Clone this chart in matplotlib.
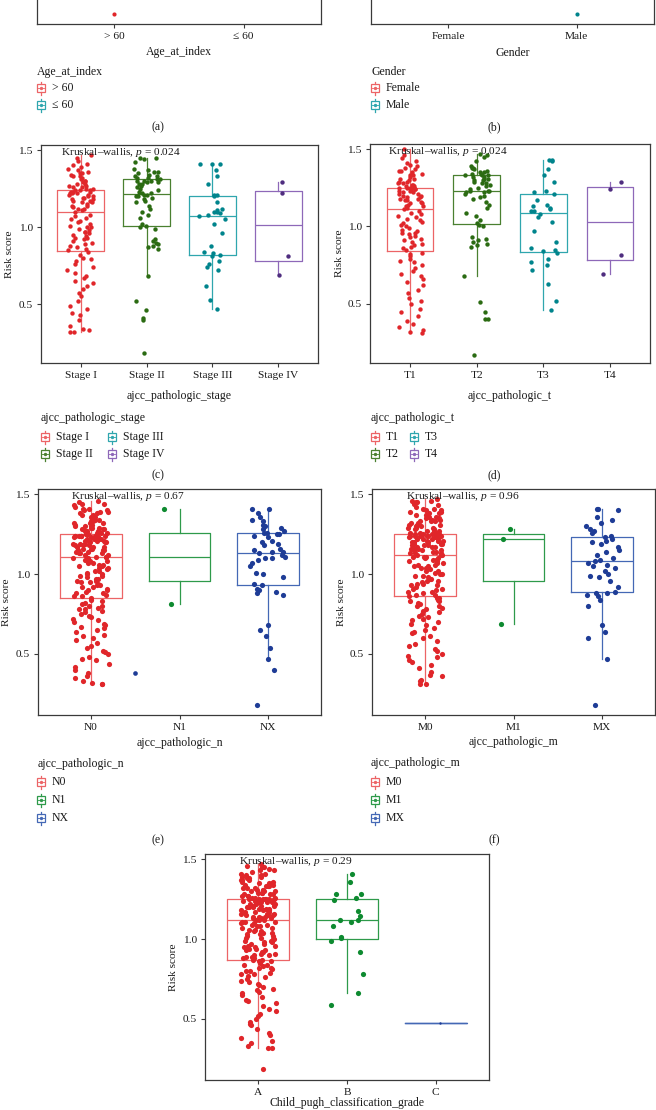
import numpy as np
import matplotlib
matplotlib.use("Agg")
import matplotlib.pyplot as plt
from matplotlib.patches import Rectangle

# ---------------- data ----------------
age_cats = ["> 60", "\u2264 60"]
age_gt60 = [0.18]
age_le60 = []

gender_cats = ["Female", "Male"]
gender_female = []
gender_male = [0.18]

stage_cats = ["Stage I", "Stage II", "Stage III", "Stage IV"]
stage_1 = [0.32, 0.32, 0.33, 0.34, 0.36, 0.40, 0.43, 0.44, 0.47, 0.49, 0.52, 0.55, 0.57, 0.60, 0.62, 0.64,
           0.65, 0.67, 0.68, 0.70, 0.72, 0.74, 0.76, 0.78, 0.79, 0.80, 0.82,
           0.84, 0.85, 0.86, 0.87, 0.88, 0.89, 0.90, 0.91, 0.92, 0.93, 0.93, 0.94, 0.95, 0.96, 0.97, 0.97,
           0.98, 0.99, 1.00, 1.00, 1.01, 1.02, 1.03, 1.04, 1.05, 1.06, 1.07, 1.08,
           1.10, 1.11, 1.12, 1.12, 1.13, 1.14, 1.14, 1.15, 1.16, 1.16, 1.17, 1.17, 1.18, 1.18, 1.19, 1.19,
           1.20, 1.20, 1.21, 1.21, 1.22, 1.22, 1.22, 1.23, 1.23, 1.23, 1.24, 1.24,
           1.24, 1.25, 1.25, 1.26, 1.26, 1.27, 1.27, 1.28, 1.28, 1.29, 1.30, 1.30, 1.31, 1.32, 1.33, 1.33,
           1.34, 1.35, 1.35, 1.36, 1.37, 1.38, 1.39, 1.40, 1.41, 1.43, 1.45, 1.47]
stage_2 = [0.18, 0.40, 0.41, 0.46, 0.52, 0.68, 0.86, 0.87, 0.88, 0.89, 0.90, 0.91, 0.92, 0.99, 1.00,
           1.01, 1.02, 1.06, 1.08, 1.10, 1.12, 1.14, 1.16, 1.17, 1.18, 1.19, 1.20, 1.20, 1.21, 1.21,
           1.22, 1.22, 1.23, 1.24, 1.25, 1.26, 1.27, 1.28, 1.28, 1.29, 1.29, 1.30, 1.30, 1.30, 1.31,
           1.31, 1.32, 1.32, 1.33, 1.33, 1.34, 1.35, 1.36, 1.36, 1.37, 1.38, 1.42, 1.44, 1.45, 1.45]
stage_3 = [0.47, 0.53, 0.62, 0.72, 0.74, 0.76, 0.78, 0.81, 0.82, 0.83, 0.84, 0.88, 0.96, 1.02, 1.05, 1.07,
           1.08, 1.09, 1.10, 1.10, 1.11, 1.12, 1.16, 1.20, 1.21, 1.21, 1.28, 1.33, 1.37, 1.41, 1.41, 1.41]
stage_4 = [0.69, 0.81, 1.22, 1.29]

t_cats = ["T1", "T2", "T3", "T4"]
t_1 = [0.31, 0.32, 0.33, 0.35, 0.37, 0.39, 0.42, 0.45, 0.47, 0.50, 0.52, 0.54, 0.57, 0.59, 0.62, 0.64,
       0.66, 0.68, 0.69, 0.71, 0.73, 0.75, 0.77, 0.78, 0.79, 0.81, 0.82,
       0.83, 0.85, 0.86, 0.87, 0.88, 0.89, 0.90, 0.91, 0.92, 0.93, 0.94, 0.95, 0.96, 0.96, 0.97, 0.98,
       0.99, 1.00, 1.01, 1.02, 1.03, 1.04, 1.05, 1.06, 1.07, 1.08, 1.09, 1.10,
       1.11, 1.12, 1.13, 1.13, 1.14, 1.15, 1.15, 1.16, 1.17, 1.17, 1.18, 1.18, 1.19, 1.19, 1.20, 1.20,
       1.21, 1.21, 1.22, 1.22, 1.23, 1.23, 1.24, 1.24, 1.24, 1.25, 1.25, 1.25,
       1.25, 1.26, 1.26, 1.27, 1.27, 1.28, 1.28, 1.29, 1.29, 1.30, 1.31, 1.31, 1.32, 1.33, 1.33, 1.34,
       1.35, 1.36, 1.36, 1.37, 1.38, 1.39, 1.40, 1.41, 1.42, 1.44, 1.46, 1.50]
t_2 = [0.17, 0.40, 0.40, 0.45, 0.51, 0.68, 0.87, 0.88, 0.89, 0.90, 0.91, 0.92, 0.93, 1.00, 1.01,
       1.02, 1.04, 1.07, 1.09, 1.12, 1.14, 1.16, 1.18, 1.19, 1.20, 1.21, 1.22, 1.22, 1.23, 1.23,
       1.23, 1.24, 1.25, 1.26, 1.27, 1.28, 1.28, 1.29, 1.30, 1.30, 1.31, 1.31, 1.32, 1.32, 1.33,
       1.33, 1.33, 1.34, 1.34, 1.35, 1.35, 1.36, 1.37, 1.38, 1.38, 1.39, 1.42, 1.45, 1.46, 1.47]
t_3 = [0.46, 0.52, 0.63, 0.72, 0.75, 0.77, 0.79, 0.83, 0.84, 0.85, 0.86, 0.90, 0.97, 1.03, 1.06, 1.08,
       1.10, 1.10, 1.11, 1.12, 1.13, 1.14, 1.17, 1.21, 1.22, 1.23, 1.29, 1.33, 1.37, 1.42, 1.43, 1.43]
t_4 = [0.69, 0.815, 1.24, 1.29]

n_cats = ["N0", "N1", "NX"]
n_0 = [0.31, 0.31, 0.32, 0.33, 0.35, 0.36, 0.38, 0.40, 0.42, 0.44, 0.46, 0.47, 0.48, 0.50, 0.51, 0.52,
       0.54, 0.55, 0.57, 0.59, 0.60, 0.61, 0.62, 0.64, 0.65, 0.66, 0.67, 0.68, 0.69, 0.70, 0.71, 0.72,
       0.73, 0.74, 0.75, 0.76, 0.77, 0.78, 0.78, 0.79, 0.80, 0.80, 0.81, 0.82, 0.83, 0.84,
       0.85, 0.86, 0.86, 0.87, 0.88, 0.88, 0.89, 0.90, 0.90, 0.91, 0.92, 0.92, 0.93, 0.93, 0.94, 0.95,
       0.95, 0.96, 0.96, 0.97, 0.97, 0.98, 0.99, 0.99, 1.00, 1.00, 1.01, 1.02, 1.02, 1.03, 1.04, 1.04,
       1.05, 1.05, 1.06, 1.06, 1.07, 1.07, 1.08, 1.08, 1.09, 1.09, 1.10, 1.10, 1.11, 1.11,
       1.11, 1.12, 1.12, 1.13, 1.13, 1.13, 1.14, 1.14, 1.15, 1.15, 1.15, 1.16, 1.16, 1.16, 1.17, 1.17,
       1.17, 1.18, 1.18, 1.18, 1.19, 1.19, 1.19, 1.20, 1.20, 1.20, 1.21, 1.21, 1.21, 1.21, 1.22, 1.22,
       1.22, 1.22, 1.23, 1.23, 1.23, 1.23, 1.24, 1.24, 1.24, 1.24, 1.24, 1.24, 1.24, 1.24,
       1.25, 1.25, 1.25, 1.26, 1.26, 1.26, 1.27, 1.27, 1.27, 1.28, 1.28, 1.28, 1.29, 1.29, 1.29, 1.30,
       1.30, 1.30, 1.31, 1.31, 1.32, 1.32, 1.32, 1.33, 1.33, 1.34, 1.34, 1.35, 1.35, 1.36, 1.36, 1.37,
       1.37, 1.38, 1.38, 1.39, 1.39, 1.40, 1.40, 1.41, 1.41, 1.42, 1.43, 1.44, 1.44, 1.45, 1.46]
n_1 = [0.81, 1.41]
n_x = [0.18, 0.40, 0.47, 0.54, 0.61, 0.65, 0.68, 0.87, 0.88, 0.89, 0.90, 0.91, 0.93,
       0.94, 0.98, 1.00, 1.01, 1.05, 1.07, 1.09, 1.10, 1.10, 1.11, 1.12, 1.13,
       1.14, 1.14, 1.15, 1.16, 1.18, 1.19, 1.20, 1.21, 1.23, 1.24, 1.25, 1.25,
       1.26, 1.26, 1.27, 1.28, 1.29, 1.30, 1.31, 1.33, 1.34, 1.36, 1.38, 1.41, 1.41]
n_x_stray = [0.38]   # single NX point drawn between N0 and N1 in the original

m_cats = ["M0", "M1", "MX"]
m_0 = [0.31, 0.31, 0.33, 0.34, 0.36, 0.37, 0.39, 0.41, 0.43, 0.45, 0.46, 0.48, 0.49, 0.50, 0.52, 0.53,
       0.55, 0.56, 0.58, 0.60, 0.61, 0.63, 0.64, 0.65, 0.66, 0.68, 0.69, 0.70, 0.71, 0.72, 0.73, 0.74,
       0.75, 0.76, 0.77, 0.78, 0.79, 0.80, 0.80, 0.81, 0.82, 0.83, 0.83, 0.84, 0.85, 0.85,
       0.86, 0.87, 0.87, 0.88, 0.89, 0.89, 0.90, 0.91, 0.91, 0.92, 0.93, 0.93, 0.94, 0.94, 0.95, 0.96,
       0.96, 0.97, 0.97, 0.98, 0.99, 0.99, 1.00, 1.00, 1.01, 1.02, 1.02, 1.03, 1.04, 1.04, 1.05, 1.05,
       1.06, 1.06, 1.07, 1.07, 1.08, 1.08, 1.09, 1.09, 1.10, 1.10, 1.11, 1.11, 1.11, 1.12,
       1.12, 1.12, 1.13, 1.13, 1.13, 1.14, 1.14, 1.15, 1.15, 1.15, 1.16, 1.16, 1.16, 1.17, 1.17, 1.17,
       1.18, 1.18, 1.18, 1.19, 1.19, 1.19, 1.20, 1.20, 1.20, 1.21, 1.21, 1.21, 1.22, 1.22, 1.22, 1.22,
       1.23, 1.23, 1.23, 1.23, 1.24, 1.24, 1.24, 1.24, 1.24, 1.24, 1.25, 1.25, 1.25, 1.25,
       1.25, 1.25, 1.26, 1.26, 1.26, 1.27, 1.27, 1.27, 1.28, 1.28, 1.29, 1.29, 1.29, 1.30, 1.30, 1.31,
       1.31, 1.31, 1.32, 1.32, 1.33, 1.33, 1.33, 1.34, 1.34, 1.35, 1.35, 1.36, 1.36, 1.37, 1.37, 1.38,
       1.38, 1.39, 1.39, 1.40, 1.40, 1.41, 1.41, 1.42, 1.43, 1.44, 1.45, 1.45, 1.46, 1.46, 1.47]
m_1 = [0.69, 1.22, 1.28]
m_x = [0.18, 0.47, 0.60, 0.64, 0.68, 0.80, 0.84, 0.86, 0.87, 0.88, 0.88, 0.89,
       0.92, 0.96, 0.98, 0.99, 1.00, 1.02, 1.04, 1.05, 1.06, 1.07, 1.08,
       1.09, 1.10, 1.12, 1.14, 1.15, 1.17, 1.19, 1.20, 1.21, 1.22, 1.23,
       1.24, 1.26, 1.27, 1.28, 1.30, 1.32, 1.34, 1.36, 1.40, 1.41, 1.41]

cp_cats = ["A", "B", "C"]
cp_a = [0.19, 0.32, 0.32, 0.33, 0.35, 0.36, 0.38, 0.40, 0.41, 0.44, 0.46, 0.47, 0.48, 0.50, 0.52, 0.53,
        0.55, 0.56, 0.58, 0.60, 0.61, 0.62, 0.64, 0.65, 0.66, 0.67, 0.68, 0.69, 0.70, 0.71, 0.72, 0.73,
        0.74, 0.75, 0.76, 0.77, 0.78, 0.78, 0.79, 0.80, 0.80, 0.81, 0.82, 0.82, 0.83, 0.84, 0.84, 0.85,
        0.86, 0.86, 0.87,
        0.87, 0.88, 0.88, 0.89, 0.89, 0.90, 0.90, 0.91, 0.91, 0.92, 0.92, 0.93, 0.93, 0.94, 0.94, 0.95,
        0.95, 0.96, 0.96, 0.97, 0.97, 0.98, 0.98, 0.99, 0.99, 1.00, 1.00, 1.01, 1.01, 1.02, 1.02, 1.03,
        1.03, 1.04, 1.04, 1.05, 1.05, 1.06, 1.06, 1.07, 1.07, 1.08, 1.08, 1.09, 1.09, 1.10, 1.10, 1.11,
        1.11, 1.11, 1.12, 1.12,
        1.12, 1.13, 1.13, 1.13, 1.14, 1.14, 1.14, 1.15, 1.15, 1.15, 1.16, 1.16, 1.16, 1.17, 1.17, 1.17,
        1.18, 1.18, 1.18, 1.19, 1.19, 1.19, 1.20, 1.20, 1.20, 1.20, 1.21, 1.21, 1.21, 1.21, 1.22, 1.22,
        1.22, 1.22, 1.23, 1.23, 1.23, 1.23, 1.23, 1.24, 1.24, 1.24, 1.24, 1.24, 1.24, 1.25, 1.25, 1.25,
        1.25, 1.25,
        1.25, 1.25, 1.26, 1.26, 1.26, 1.27, 1.27, 1.27, 1.28, 1.28, 1.28, 1.29, 1.29, 1.29, 1.30, 1.30,
        1.30, 1.31, 1.31, 1.31, 1.32, 1.32, 1.32, 1.33, 1.33, 1.33, 1.34, 1.34, 1.35, 1.35, 1.35, 1.36,
        1.36, 1.37, 1.37, 1.37, 1.38, 1.38, 1.39, 1.39, 1.40, 1.40, 1.41, 1.41, 1.42, 1.43, 1.43, 1.44,
        1.45, 1.45, 1.46, 1.47]
cp_b = [0.586, 0.66, 0.78, 0.92, 0.99, 1.01, 1.015, 1.08, 1.11, 1.119, 1.12, 1.146, 1.177, 1.245,
        1.256, 1.28, 1.285, 1.356, 1.41]
cp_c = [0.477]

stat_c = "Kruskal\u2013wallis, $p$ = 0.024"
stat_d = "Kruskal\u2013wallis, $p$ = 0.024"
stat_e = "Kruskal\u2013wallis, $p$ = 0.67"
stat_f = "Kruskal\u2013wallis, $p$ = 0.96"
stat_g = "Kruskal\u2013wallis, $p$ = 0.29"

# ---------------- style ----------------
RED_P, RED_B = "#E0262A", "#EC6466"
DGREEN_P, DGREEN_B = "#2B6B12", "#4A8030"
TEAL_P, TEAL_B = "#00848C", "#2FA6AE"
PURP_P, PURP_B = "#4F2D7F", "#8E68B8"
GREEN_P, GREEN_B = "#0E8A30", "#2E9A4A"
BLUE_P, BLUE_B = "#1E3C96", "#4468B5"
TXT = "#1a1a1a"
SPINE = "#3a3a3a"
FS = 8.2

W, H = 656, 1110
plt.rcParams['font.family'] = ['Liberation Serif', 'DejaVu Serif']
plt.rcParams['mathtext.fontset'] = 'custom'
plt.rcParams['mathtext.rm'] = 'Liberation Serif'
plt.rcParams['mathtext.it'] = 'Liberation Serif:italic'

fig = plt.figure(figsize=(W / 100, H / 100), dpi=100)
fig.patch.set_facecolor("white")

ov = fig.add_axes([0, 0, 1, 1], zorder=10)
ov.set_xlim(0, W)
ov.set_ylim(H, 0)
ov.axis("off")


def ax_px(l, t, r, b):
    return fig.add_axes([l / W, 1 - b / H, (r - l) / W, (b - t) / H])


def panel(box, groups, cats, pcol, bcol, size, stat=None, statx=0.07, seed=0,
          xlabel="", xlabel_y=0, stray=None, boxes=True):
    l, t, r, b = box
    ax = ax_px(l, t, r, b)
    rng = np.random.default_rng(seed)
    n = len(cats)
    for i, (g, pc, bc) in enumerate(zip(groups, pcol, bcol)):
        if len(g) == 0:
            continue
        if boxes:
            ax.boxplot([g], positions=[i], widths=0.7, showfliers=False, showcaps=False,
                       whis=1.5, manage_ticks=False,
                       boxprops=dict(color=bc, lw=0.9),
                       whiskerprops=dict(color=bc, lw=0.9),
                       medianprops=dict(color=bc, lw=0.9), zorder=2)
            xs = i + rng.uniform(-0.2, 0.2, len(g))
        else:
            xs = np.full(len(g), float(i))
        ax.scatter(xs, g, s=size if len(g) > 1 or not boxes else 3, color=pc, lw=0, zorder=3)
    if stray is not None:
        vals, pos, col = stray
        ax.scatter([pos] * len(vals), vals, s=size * 0.8, color=col, lw=0, zorder=3)
    ax.set_xlim(-0.6, n - 0.4)
    ax.set_ylim(0.118, 1.533)
    ax.set_xticks(range(n))
    ax.set_xticklabels(cats)
    if boxes:
        ax.set_yticks([0.5, 1.0, 1.5])
        ax.set_yticklabels(["0.5", "1.0", "1.5"])
    else:
        ax.set_yticks([])
    ax.tick_params(length=3, width=0.8, color=SPINE, labelsize=FS, labelcolor=TXT, pad=3)
    for s in ax.spines.values():
        s.set_color(SPINE)
        s.set_linewidth(0.9)
    if stat:
        ax.text(statx, 1.485, stat, transform=ax.get_yaxis_transform(), fontsize=FS,
                color=TXT, ha="left", va="center")
    if t > 0:
        ov.text(l - 31, (t + b) / 2, "Risk score", rotation=90, ha="center", va="center",
                fontsize=FS, color=TXT)
    ov.text((l + r) / 2, xlabel_y, xlabel, ha="center", va="center", fontsize=FS + 0.3, color=TXT)
    return ax


def icon(x, y, color):
    w, h = 8, 8
    ov.add_patch(Rectangle((x, y - h / 2), w, h, fill=False, ec=color, lw=0.9))
    ov.plot([x + w / 2] * 2, [y - h / 2 - 2.5, y - h / 2], color=color, lw=0.9)
    ov.plot([x + w / 2] * 2, [y + h / 2, y + h / 2 + 2.5], color=color, lw=0.9)
    ov.plot([x, x + w], [y, y], color=color, lw=0.6)
    ov.scatter([x + w / 2], [y], s=6, color=color, lw=0, zorder=5)


def legend(title, tx, ty, items):
    ov.text(tx, ty, title, ha="left", va="center", fontsize=FS + 0.3, color=TXT)
    for (ix, iy, lab, col) in items:
        icon(ix, iy, col)
        ov.text(ix + 15, iy, lab, ha="left", va="center", fontsize=FS + 0.3, color=TXT)


def plabel(x, y, s):
    ov.text(x, y, s, ha="center", va="center", fontsize=FS + 0.3, color=TXT)


# (a)
panel((37, -194, 321, 24), [age_gt60, age_le60], age_cats, [RED_P, TEAL_P], [RED_B, TEAL_B],
      9, seed=1, xlabel="Age_at_index", xlabel_y=52, boxes=False)
legend("Age_at_index", 37, 72, [(37, 88, age_cats[0], RED_B), (37, 105, age_cats[1], TEAL_B)])
plabel(158, 127, "(a)")

# (b)
panel((371, -194, 654, 24), [gender_female, gender_male], gender_cats, [RED_P, TEAL_P],
      [RED_B, TEAL_B], 9, seed=2, xlabel="Gender", xlabel_y=53, boxes=False)
legend("Gender", 371, 72, [(371, 88, gender_cats[0], RED_B), (371, 105, gender_cats[1], TEAL_B)])
plabel(494, 127, "(b)")

four_p = [RED_P, DGREEN_P, TEAL_P, PURP_P]
four_b = [RED_B, DGREEN_B, TEAL_B, PURP_B]

# (c)
panel((41, 145, 318, 363), [stage_1, stage_2, stage_3, stage_4], stage_cats, four_p, four_b,
      10, stat=stat_c, statx=0.072, seed=3, xlabel="ajcc_pathologic_stage", xlabel_y=396)
legend("ajcc_pathologic_stage", 41, 418,
       [(41, 437, stage_cats[0], RED_B), (41, 454, stage_cats[1], DGREEN_B),
        (108, 437, stage_cats[2], TEAL_B), (108, 454, stage_cats[3], PURP_B)])
plabel(158, 475, "(c)")

# (d)
panel((370, 144, 650, 363), [t_1, t_2, t_3, t_4], t_cats, four_p, four_b,
      10, stat=stat_d, statx=0.065, seed=4, xlabel="ajcc_pathologic_t", xlabel_y=396)
legend("ajcc_pathologic_t", 371, 418,
       [(371, 437, t_cats[0], RED_B), (371, 454, t_cats[1], DGREEN_B),
        (410, 437, t_cats[2], TEAL_B), (410, 454, t_cats[3], PURP_B)])
plabel(494, 475, "(d)")

three_p = [RED_P, GREEN_P, BLUE_P]
three_b = [RED_B, GREEN_B, BLUE_B]

# (e)
panel((38, 489, 321, 715), [n_0, n_1, n_x], n_cats, three_p, three_b,
      14, stat=stat_e, statx=0.117, seed=5, xlabel="ajcc_pathologic_n", xlabel_y=743,
      stray=(n_x_stray, 0.5, BLUE_P))
legend("ajcc_pathologic_n", 38, 764,
       [(37, 782, n_cats[0], RED_B), (37, 800, n_cats[1], GREEN_B), (37, 818, n_cats[2], BLUE_B)])
plabel(158, 840, "(e)")

# (f)
panel((372, 489, 655, 715), [m_0, m_1, m_x], m_cats, three_p, three_b,
      14, stat=stat_f, statx=0.12, seed=6, xlabel="ajcc_pathologic_m", xlabel_y=742)
legend("ajcc_pathologic_m", 371, 763,
       [(371, 782, m_cats[0], RED_B), (371, 800, m_cats[1], GREEN_B), (371, 818, m_cats[2], BLUE_B)])
plabel(494, 840, "(f)")

# (g)
panel((205, 854, 489, 1080), [cp_a, cp_b, cp_c], cp_cats, three_p, three_b,
      14, stat=stat_g, statx=0.12, seed=7, xlabel="Child_pugh_classification_grade",
      xlabel_y=1103)

fig.savefig("out.png", dpi=100, facecolor="white")
